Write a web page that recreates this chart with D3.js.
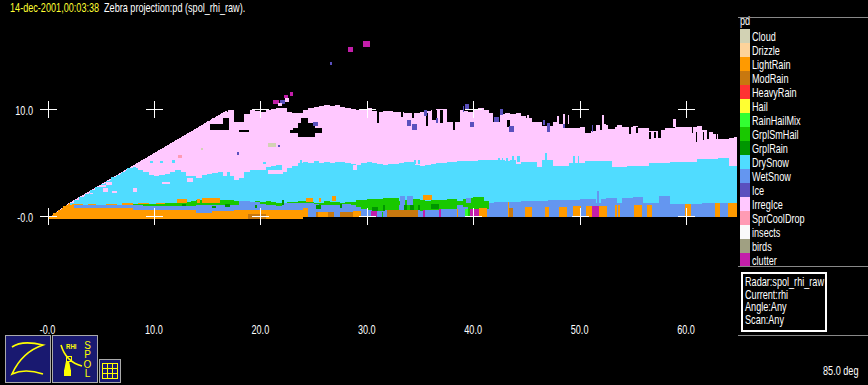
<!DOCTYPE html>
<html><head><meta charset="utf-8">
<script src="https://cdn.jsdelivr.net/npm/d3@7/dist/d3.min.js"></script>
<style>html,body{margin:0;padding:0;background:#000;overflow:hidden}svg{display:block}
text{font-family:"Liberation Sans",sans-serif;font-size:12px;fill:#fff}</style>
</head><body><div id="chart"></div>
<script>
const categories=["Cloud","Drizzle","LightRain","ModRain","HeavyRain","Hail","RainHailMix","GrplSmHail","GrplRain","DrySnow","WetSnow","Ice","IrregIce","SprCoolDrop","insects","birds","clutter"];
const colors=["#d2d2b4","#fdd39b","#ff9a00","#c8780f","#ff3232","#ffff32","#32ff32","#19c800","#009600","#50dcff","#6496f0","#5a50be","#ffc8ff","#ff9bb4","#fafafa","#a0a082","#c31eaa"];
const xTicks=[0,10,20,30,40,50,60], xTickLabels=["-0.0","10.0","20.0","30.0","40.0","50.0","60.0"];
const yTicks=[0,10], yTickLabels=["-0.0","10.0"];
const statusLines=["Radar:spol_rhi_raw","Current:rhi","Angle:Any","Scan:Any"];
// layer tops in km per 0.5 km range bin
const irregIceTop=[0,.3,.6,.9,1.2,1.5,1.8,2.1,2.4,2.7,
3,3.3,3.6,3.85,4.15,4.45,4.75,5.05,5.3,5.6,
5.9,6.2,6.5,6.8,7.1,7.4,7.65,7.95,8.25,8.55,
8.85,9.15,9.4,9.7,9.9,8.5,8.8,9.5,9.9,9.8,
9.7,9.9,10,10.1,10.1,9.7,9.6,9.6,9.9,10.1,
10.2,10.3,10.4,10.3,10.4,10.2,10.1,10,9.9,10,
10.1,9.8,9.7,9.8,9.8,9.7,9.7,9.6,9.6,9.6,
9.7,9.8,9.9,10,10,10.1,10,9.9,9.8,9.7,
9.9,10.1,9.9,9.6,9.5,9.5,9.6,9.5,9.6,9.35,
9.15,8.8,8.8,8.7,8.4,8.8,8.6,8.6,8.2,8.2,
8.3,8.1,7.95,8.5,8.6,8.5,8.3,8.5,8.3,8.3,
8.4,8.2,8.2,7.95,7.95,8.05,8.2,8.2,8.3,8.3,
8.3,8.3,8.4,8.05,7.85,7.65,7.2,7.2,7.3,7.4,7.4];
const drySnowTop=[0,.3,.6,.9,1.2,1.5,1.8,2.1,2.4,2.7,
3,3.3,3.6,3.85,4.15,4.45,4.5,4.3,4.1,3.85,
3.75,3.85,3.95,4.1,4.3,4.1,3.75,3.75,3.55,3.85,
3.95,4,4.1,3.75,3.75,3.35,3.55,4.1,4.3,4.3,
4.3,4.6,4.7,4.8,4.1,4.5,4.7,4.95,5.05,4.95,
5.15,4.95,5.05,4.95,5.05,5.05,4.95,4.85,4.75,4.95,
5.05,4.95,4.85,4.75,4.85,4.85,4.95,5.05,5.05,4.75,
4.65,4.75,4.85,4.95,4.95,5.05,5.05,5.15,5.15,5.15,
5.15,5.25,5.25,5.25,5.25,5.25,5.15,5.25,4.85,5.05,
5.05,5.05,4.6,5.25,5.25,4.65,4.65,4.65,4.95,4.95,
4.95,5.15,5.15,5.15,5.15,5.15,4.6,4.6,4.6,4.65,
4.65,4.65,4.65,4.95,4.95,4.95,4.95,5.05,5.05,5.05,
5.05,5.05,5.35,5.35,5.35,5.35,5.45,5.45,4.65,4.65,4.65];
const grplSmHailStart=16;
const grplSmHailTop=[1.15,1.15,1.15,1.15,
1.1,1.1,1.2,1.2,1.2,1.3,1.3,1.4,1.45,1.3,
1.25,1.3,1.45,1.5,1.5,1.4,1.3,1.2,1.3,1.4,
1.3,1.4,1.3,1.2,1.2,1.3,1.3,1.4,1.4,1.3,
1.25,1.2,1.4,1.3,1.3,1.2,1.3,1.35,1.5,1.5,
1.6,1.6,1.6,1.7,1.7,1.7,1.4,1.5,1.6,1.6,
1.5,1.4,1.5,1.5,1.5,1.6,1.6,1.4,1.6,1.7,
1.75,1.75,1.4,1.4];
const wetSnowStart=4;
const wetSnowTop=[1,1,1,1,1,1,1,1,1,1,1,1,1,1,
.9,.9,.9,.9,.9,.9,.9,.9,.9,.9,
1,1,1,1,1,1,1,1,1.4,1.4,1.3,1.3,
1.1,1,1,.95,1.2,1.2,1.2,1.2,1.2,1.2,
1.1,1,1,1,1,1.1,1.1,1,.85,.7,
.6,.6,.5,.6,.6,.6,1,.6,.6,.6,
.5,.6,.6,.6,.7,.7,.7,1,.8,.7,
.7,.7,.7,1.2,1.3,1.3,1.3,1.3,1.3,1.4,
1.4,1.4,1.4,1.4,1.5,1.5,1.5,1.5,1.5,1.5,
1.6,1.6,1.6,1.2,1.6,1.7,1.7,1.2,1.7,1.7,
1.8,1.8,1.2,1.2,1.2,1.85,1.85,1.1,1.1,1.1,
1.1,1.1,1.1,1.2,1.2,1.2,1.2,1.2,1.2,1.2,1.2];
const lightRainTop=[0,.3,.6,.9,1,
.75,.75,.75,.75,.75,.75,.75,.75,.75,.75,.75,
.6,.6,.6,.6,.6,.6,.55,.55,.55,.55,.55,.55,
.3,.3,.3,.45,.45,.45,.45,
.55,.55,.55,.55,.55,.55,.55,.55,.55,.55,.55,.55,.55,.75,.75];
const groundBreaks=[0,24,41], groundLevel=[-.25,-.14,-.05];
// upper edge of the radar beam: range, height
const beamRange=[0,2,16.9], beamHeight=[-.25,1.2,9.9];
const beamLowRange=[0,2.1], beamLowHeight=[-.25,1.2];
const beamMidRange=[0,7.8], beamMidHeight=[-.25,4.5];
// ground-level columns: range start, range end, top km, category
const cellStart=[18.84,25.23,25.42,26.36,27.49,28.71,30.4,31.44,31.9,35.29,36.79,38.49,39.24,39.52,39.7,40.55,43.3,43.4,44.88,46.76,48.07,49.34,50.61,51.15,51.86,53.36,53.62,55.12,56.37,59.9,62.73,63.9];
const cellEnd=[20.53,25.42,26.36,26.93,28.71,29.46,30.97,31.53,34.82,35.48,36.98,38.58,39.52,39.7,40.55,41.3,43.4,43.78,45.5,47.16,48.85,50.14,51.15,51.86,52.61,53.49,53.8,55.87,56.79,60.48,63.2,64.8];
const cellTop=[.2,.37,.37,.37,.37,.47,.47,.37,.56,.56,.65,.65,.65,.65,.65,.75,1.3,.78,.8,.8,.8,.93,.93,.93,.93,1,1,1.03,1.03,1.1,1.2,1.2];
const cellCat=["ModRain","ModRain","LightRain","ModRain","ModRain","LightRain","clutter","GrplSmHail","ModRain","clutter","clutter","LightRain","RainHailMix","GrplSmHail","clutter","LightRain","LightRain","ModRain","LightRain","LightRain","LightRain","LightRain","LightRain","clutter","LightRain","LightRain","LightRain","LightRain","LightRain","LightRain","LightRain","LightRain"];
// isolated echoes: [range0, range1, height0, height1]
const drySpecks=[[23.73,23.92,4.86,5.23],[34.45,34.64,4.86,5.23],[34.82,35.01,4.86,5.23],[42.34,42.53,4.86,5.42],[42.72,42.81,4.86,5.42],[43.1,43.28,4.86,5.42],[43.66,43.85,4.86,5.6],[44.13,44.41,5.05,5.6],[46.76,46.95,5.23,5.89],[49.39,49.58,4.95,5.6],[49.86,49.96,4.95,5.6],[9.63,9.9,4.95,5.1],[10.57,10.9,4.95,5.1],[11.7,12,5,5.2],[8,8.3,4.4,4.6],[16.87,17.15,3.36,4.11],[20.25,20.5,4.9,5.05]];
const irregSpecks=[[5.5,6.06,2.9,3.18],[4.93,5.5,2.71,2.9],[5.22,5.69,2.24,2.62],[6.06,6.53,2.15,2.34],[3.99,4.28,2.06,2.15],[8.04,8.41,2.24,2.62],[10.76,11.51,2.99,3.18],[13.11,13.67,3.18,3.55],[20.72,22.13,3.93,4.3],[28.71,29.09,4.3,4.77],[21.66,22.04,10.28,10.56],[22.32,22.7,10.65,11.03],[45.07,45.25,8.79,9.44],[47.89,48.07,8.6,9.35],[48.45,48.64,8.6,9.53],[48.92,49.01,8.6,9.44],[52.12,52.3,8.6,9.44],[58.79,59.07,8.32,9.07]];
const gaps=[[15.27,17.06,8.04,8.6],[16.5,17.06,8.6,9.16],[18,18.9,7.85,8.04],[22.79,23.07,7.76,8.04],[23.07,25.8,7.76,8.22],[23.54,25.13,7.38,8.69],[23.82,24.48,8.69,9.15],[30.97,31.15,8.69,9.91],[33.22,33.41,9.25,9.72],[34.26,34.45,9.16,9.63],[35.57,35.76,8.41,9.63],[36.14,36.61,8.97,9.91],[36.89,37.17,8.69,9.91],[37.55,38.77,8.79,10.09],[38.1,38.3,8.04,8.79],[41.87,42.53,8.79,9.72],[43.19,43.47,8.32,8.97],[46.48,46.95,8.41,8.97],[48.45,49.01,8.22,8.69],[50.52,51.08,7.76,8.41],[51.27,51.45,7.95,8.69],[51.93,52.12,8.04,8.69],[52.68,53.34,8.13,8.69],[54.65,54.84,7.66,8.32],[55.3,55.49,7.76,8.32],[56.53,56.72,7.2,7.85],[57,57.19,7.29,7.85],[57.38,57.66,7.29,8.04],[60.57,60.66,7.76,8.32],[60.95,61.04,6.92,7.85],[61.6,61.7,7.1,7.85],[61.98,62.17,7.2,7.85],[62.83,62.93,7.2,7.85],[63.96,64.05,7.29,7.85]];
const irregLumps=[[17.15,18.09,8.04,8.79]];
const iceSpecks=[[24.95,25.42,8.41,8.79],[33.79,34.16,8.41,8.97],[34.26,34.73,8.04,8.6],[35.39,35.67,9.35,9.91],[36.51,36.7,8.69,9.16],[39.05,39.15,9.72,10.28],[39.24,39.62,10,10.47],[39.7,40.08,8.32,8.79],[41.96,42.43,8.79,9.25],[42.53,42.81,9.44,10],[43.38,43.85,7.85,8.41],[46.57,46.76,8.5,8.97],[46.95,47.23,7.85,8.69],[48.45,48.64,8.22,8.69],[51.18,51.27,7.85,8.5],[21.66,21.85,6.45,6.64],[17.81,17.99,5.7,5.98],[21.85,22.32,10.47,10.84],[26.55,26.74,14.11,14.39]];
const clutterSpecks=[[21.19,21.76,10.47,10.84],[22.23,22.6,11.03,11.31],[22.79,23.07,11.21,11.59],[29.65,30.3,15.79,16.36],[28.24,28.71,15.33,15.79]];
const cloudSpecks=[[20.72,21.48,6.45,6.82],[14.43,14.62,6.17,6.36]];
const coolDropSpecks=[[12.27,12.64,5.42,5.7]];
const lightRainSpecks=[[2.3,3.3,.93,1.12],[3.8,4.6,.93,1.15],[5.5,6.5,.95,1.15],[7,8,.95,1.2],[8.5,9.5,.95,1.2],[10.2,11,.95,1.2],[12.17,13.1,1.21,1.59],[14.05,14.3,1.21,1.59],[14.52,16.21,1.21,1.68],[24.3,24.95,1.3,1.68],[25.5,25.7,1.3,1.68],[26.74,27.11,1.4,1.87],[35.29,36.14,1.5,1.96]];
const wetSpecks=[[33.13,33.6,1,1.87],[33.79,34.35,1,1.87],[39.33,39.8,1.2,1.68],[51.6,51.86,1.2,2.3]];
const grplRainSpecks=[[25.23,25.7,.65,1.03],[27.49,27.68,.75,1.12],[30.5,31.07,.47,.84],[31.53,31.72,.47,1.03],[33.5,33.79,.56,1.03],[34.07,34.45,.56,1.03],[34.82,35.01,.56,1.03],[36.04,36.79,.65,1.12],[12.64,13.02,.93,1.12],[15.46,15.84,.75,.93],[16.68,17.15,.84,1.12],[22.04,22.23,1.03,1.5],[19.5,19.7,.75,1.03]];

const W=868,H=385;
const color=d3.scaleOrdinal(categories,colors);
const x=d3.scaleLinear().domain([0,60]).range([47.5,686]);
const y=d3.scaleLinear().domain([0,10]).range([216,109]);
const svg=d3.select("#chart").append("svg").attr("width",W).attr("height",H).attr("viewBox",`0 0 ${W} ${H}`);
svg.append("rect").attr("width",W).attr("height",H).attr("fill","#000");
svg.append("defs").append("clipPath").attr("id","plot").append("rect").attr("x",0).attr("y",0).attr("width",737).attr("height",300);
const plot=svg.append("g").attr("clip-path","url(#plot)").attr("shape-rendering","crispEdges");
const ground=r=>groundLevel[d3.bisectRight(groundBreaks,r)-1];
const area=d3.area().defined(d=>d.h!=null).curve(d3.curveStepAfter).x(d=>x(d.r)).y0(d=>y(ground(d.r))).y1(d=>y(d.h));
const layer=(vals,start,cat)=>plot.append("path").datum(vals.map((h,i)=>({r:(i+start)*0.5,h}))).attr("d",area).attr("fill",color(cat));
const beam=(rs,hs,cat)=>plot.append("path").datum(rs.map((r,i)=>({r,h:hs[i]}))).attr("d",d3.area().curve(d3.curveLinear).x(d=>x(d.r)).y0(y(-.25)).y1(d=>y(d.h))).attr("fill",color(cat));
const specks=(list,fill)=>plot.append("g").selectAll("rect").data(list).join("rect")
 .attr("x",d=>x(d[0])).attr("width",d=>x(d[1])-x(d[0])).attr("y",d=>y(d[3])).attr("height",d=>y(d[2])-y(d[3])).attr("fill",fill);
layer(irregIceTop,0,"IrregIce");
beam(beamRange,beamHeight,"IrregIce");
specks(irregLumps,color("IrregIce"));
specks(gaps,"#000");
specks(iceSpecks,color("Ice"));
specks(cloudSpecks,color("Cloud"));
specks(coolDropSpecks,color("SprCoolDrop"));
specks(clutterSpecks,color("clutter"));
specks(irregSpecks.slice(10),color("IrregIce"));
layer(drySnowTop,0,"DrySnow");
beam(beamMidRange,beamMidHeight,"DrySnow");
specks(drySpecks,color("DrySnow"));
specks(irregSpecks.slice(0,10),color("IrregIce"));
specks(lightRainSpecks,color("LightRain"));
layer(grplSmHailTop,grplSmHailStart,"GrplSmHail");
specks(lightRainSpecks.slice(6),color("LightRain"));
layer(wetSnowTop,wetSnowStart,"WetSnow");
specks(wetSpecks,color("WetSnow"));
specks(grplRainSpecks,color("GrplRain"));
layer(lightRainTop,0,"LightRain");
beam(beamLowRange,beamLowHeight,"LightRain");
plot.append("g").selectAll("rect").data(cellStart.map((s,i)=>({s,e:cellEnd[i],t:cellTop[i],c:cellCat[i]}))).join("rect")
 .attr("x",d=>x(d.s)).attr("width",d=>x(d.e)-x(d.s)).attr("y",d=>y(d.t)).attr("height",d=>y(ground(d.s))-y(d.t)).attr("fill",d=>color(d.c));
// crosshair grid
const cross=svg.append("g").attr("stroke","#fff").attr("stroke-width",1).attr("shape-rendering","crispEdges");
yTicks.forEach(v=>xTicks.forEach(u=>{
 const cx=Math.round(x(u))+.5,cy=Math.round(y(v))+.5;
 cross.append("line").attr("x1",cx-8.5).attr("x2",cx+8.5).attr("y1",cy).attr("y2",cy);
 cross.append("line").attr("x1",cx).attr("x2",cx).attr("y1",cy-8.5).attr("y2",cy+8.5);
}));
xTicks.forEach((t,i)=>svg.append("text").attr("x",x(t)).attr("y",334).attr("text-anchor","middle").text(xTickLabels[i]));
yTicks.forEach((t,i)=>svg.append("text").attr("x",33).attr("y",y(t)+5.5).attr("text-anchor","end").text(yTickLabels[i]));
// title
svg.append("text").attr("x",10).attr("y",12).style("fill","#ffff32").text("14-dec-2001,00:03:38");
svg.append("text").attr("x",104).attr("y",12).text("Zebra projection:pd (spol_rhi_raw).");
// legend
const rule=(yy)=>svg.append("line").attr("x1",738).attr("x2",868).attr("y1",yy).attr("y2",yy).attr("stroke","#888").attr("shape-rendering","crispEdges");
svg.append("text").attr("x",740).attr("y",25).text("pd");
const lg=svg.append("g").selectAll("g").data(categories).join("g").attr("transform",(d,i)=>`translate(740,${29+i*14})`);
lg.append("rect").attr("width",10).attr("height",14).attr("fill",d=>color(d));
lg.append("text").attr("x",12).attr("y",12).text(d=>d);
rule(17.5);rule(266.5);rule(335.5);
// status box
svg.append("rect").attr("x",742).attr("y",273).attr("width",84).attr("height",58).attr("fill","none").attr("stroke","#fff").attr("stroke-width",2);
statusLines.forEach((s,i)=>svg.append("text").attr("x",745).attr("y",286+i*12.7).text(s));
svg.append("text").attr("x",823).attr("y",375).text("85.0 deg");
// icon buttons
const box=(a,b,w,h)=>svg.append("rect").attr("x",a+.5).attr("y",b+.5).attr("width",w).attr("height",h).attr("fill","#191970").attr("stroke","#aaa");
box(5,335,45,47);box(52,335,45,47);box(99,359,21,23);
const pen=(d,w=1.5)=>svg.append("path").attr("d",d).attr("fill","none").attr("stroke","#ffff00").attr("stroke-width",w);
pen("M12,347Q22,340 43,345Q22,352 12,374Q25,368 43,374",1.6);
pen("M61,345Q66,362 82,366",1.6);
svg.append("rect").attr("x",66.5).attr("y",356.5).attr("width",5).attr("height",5).attr("fill","none").attr("stroke","#ffff00");
svg.append("path").attr("d","M66,361L69,361L71,371L71,375L64,375L64,371Z").attr("fill","#ffff00");
svg.append("rect").attr("x",64).attr("y",370).attr("width",7).attr("height",6).attr("fill","#ffff00");
svg.append("text").attr("x",66).attr("y",349).style("fill","#ffff00").style("font-size","8px").style("font-weight","bold").text("RHI");
["S","P","O","L"].forEach((c,i)=>svg.append("text").attr("class","icon").attr("x",87.5).attr("y",349+i*9.3).attr("text-anchor","middle").style("fill","#ffff00").style("font-size","10px").text(c));
const g3=svg.append("g").attr("stroke","#ffff00").attr("shape-rendering","crispEdges");
[0,1,2,3].forEach(i=>{
 g3.append("line").attr("x1",102.5+i*5).attr("x2",102.5+i*5).attr("y1",363).attr("y2",378);
 g3.append("line").attr("y1",363.5+i*5).attr("y2",363.5+i*5).attr("x1",102).attr("x2",118);
});
// the reference uses a narrow bitmap face: condense every label horizontally
svg.selectAll("text:not(.icon)").each(function(){
 const t=d3.select(this),px=+t.attr("x"),py=+t.attr("y");
 t.attr("x",0).attr("y",0).attr("transform",`translate(${px},${py}) scale(0.76,1)`);
});
</script></body></html>
